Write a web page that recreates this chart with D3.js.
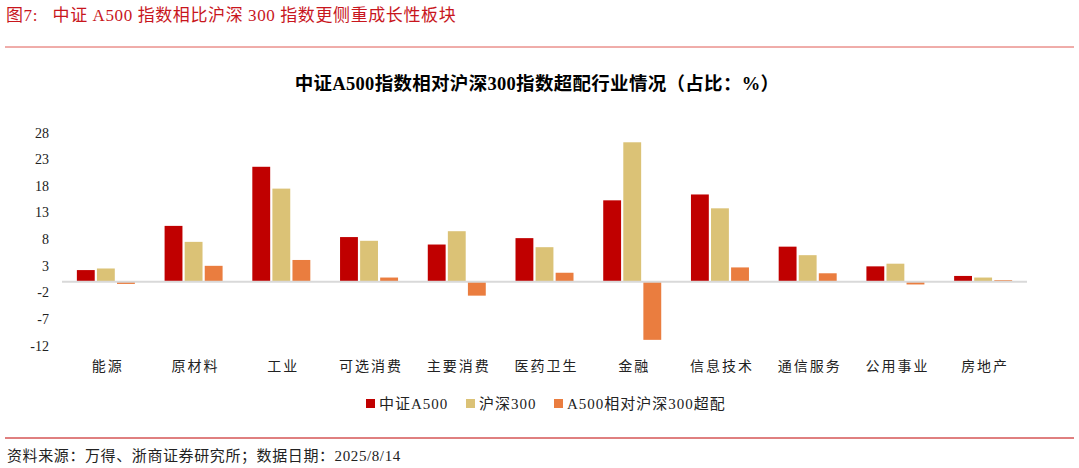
<!DOCTYPE html>
<html>
<head>
<meta charset="utf-8">
<script src="https://cdn.jsdelivr.net/npm/d3@7"></script>
<style>
  body { margin: 0; background: #fff; }
  svg text { font-family: "Liberation Serif", "Noto Sans CJK SC", serif; }
</style>
</head>
<body>
<div id="chart"></div>
<script>
var categories = ["能源", "原材料", "工业", "可选消费", "主要消费", "医药卫生", "金融", "信息技术", "通信服务", "公用事业", "房地产"];
var a500 = [2.2, 10.5, 21.6, 8.4, 7.0, 8.2, 15.3, 16.4, 6.6, 2.9, 1.1];
var hs300 = [2.5, 7.5, 17.5, 7.7, 9.5, 6.5, 26.2, 13.8, 5.0, 3.4, 0.8];
var overweight = [-0.4, 3.0, 4.1, 0.8, -2.6, 1.7, -10.9, 2.7, 1.6, -0.5, 0.3];
var seriesNames = ["中证A500", "沪深300", "A500相对沪深300超配"];
var yTicks = [28, 23, 18, 13, 8, 3, -2, -7, -12];

var width = 1079, height = 468;
var colors = ["#c00000", "#dbc276", "#ea7d3f"];

var svg = d3.select("#chart").append("svg")
  .attr("width", width)
  .attr("height", height);

// header
svg.append("text")
  .attr("x", 6).attr("y", 21)
  .attr("fill", "#c8161d")
  .style("font-size", "17px")
  .style("letter-spacing", "0.6px")
  .text("图7:\u00a0\u00a0\u00a0中证 A500 指数相比沪深 300 指数更侧重成长性板块");

svg.append("line")
  .attr("x1", 5).attr("x2", 1074).attr("y1", 47).attr("y2", 47)
  .attr("stroke", "#e05a55").attr("stroke-width", 1);

svg.append("text")
  .attr("x", 537).attr("y", 90)
  .attr("text-anchor", "middle")
  .style("font-size", "18.5px").style("font-weight", "bold")
  .style("letter-spacing", "0.3px")
  .text("中证A500指数相对沪深300指数超配行业情况（占比：%）");

// plot
var x = d3.scaleBand().domain(categories).range([62, 1027]).paddingInner(0).paddingOuter(0);
var y = d3.scaleLinear().domain([-12, 28]).range([345.7, 132.7]);

var sub = d3.scaleBand().domain([0, 1, 2]).range([0, 58]).paddingInner(0.11);

var series = [a500, hs300, overweight];

svg.append("g")
  .selectAll("text")
  .data(yTicks)
  .enter().append("text")
  .attr("x", 49)
  .attr("y", function(d) { return y(d); })
  .attr("dy", "0.35em")
  .attr("text-anchor", "end")
  .style("font-size", "14px")
  .attr("fill", "#222")
  .text(function(d) { return d; });

series.forEach(function(vals, si) {
  svg.append("g")
    .selectAll("rect")
    .data(vals)
    .enter().append("rect")
    .attr("x", function(d, i) { return x(categories[i]) + x.bandwidth() / 2 - 29 + sub(si); })
    .attr("width", sub.bandwidth())
    .attr("y", function(d) { return y(Math.max(0, d)); })
    .attr("height", function(d) { return Math.abs(y(d) - y(0)); })
    .attr("fill", colors[si]);
});

svg.append("line")
  .attr("x1", 62).attr("x2", 1027)
  .attr("y1", y(0)).attr("y2", y(0))
  .attr("stroke", "#d9d9d9").attr("stroke-width", 2);

svg.append("g")
  .selectAll("text")
  .data(categories)
  .enter().append("text")
  .attr("x", function(d) { return x(d) + x.bandwidth() / 2 + 2; })
  .attr("y", 371)
  .attr("text-anchor", "middle")
  .style("font-size", "14px")
  .style("letter-spacing", "2px")
  .attr("fill", "#222")
  .text(function(d) { return d; });

// legend
var legendX = [366, 466, 554];
var lg = svg.append("g").selectAll("g")
  .data(seriesNames)
  .enter().append("g")
  .attr("transform", function(d, i) { return "translate(" + legendX[i] + ",399)"; });
lg.append("rect").attr("width", 9).attr("height", 9)
  .attr("fill", function(d, i) { return colors[i]; });
lg.append("text").attr("x", 13).attr("y", 10)
  .style("font-size", "15px").style("letter-spacing", "1px").attr("fill", "#222")
  .text(function(d) { return d; });

// footer
svg.append("line")
  .attr("x1", 5).attr("x2", 1074).attr("y1", 438).attr("y2", 438)
  .attr("stroke", "#c00000").attr("stroke-width", 1);

svg.append("text")
  .attr("x", 7).attr("y", 461)
  .style("font-size", "15px").style("letter-spacing", "0.6px").attr("fill", "#222")
  .text("资料来源：万得、浙商证券研究所；数据日期：2025/8/14");
</script>
</body>
</html>
